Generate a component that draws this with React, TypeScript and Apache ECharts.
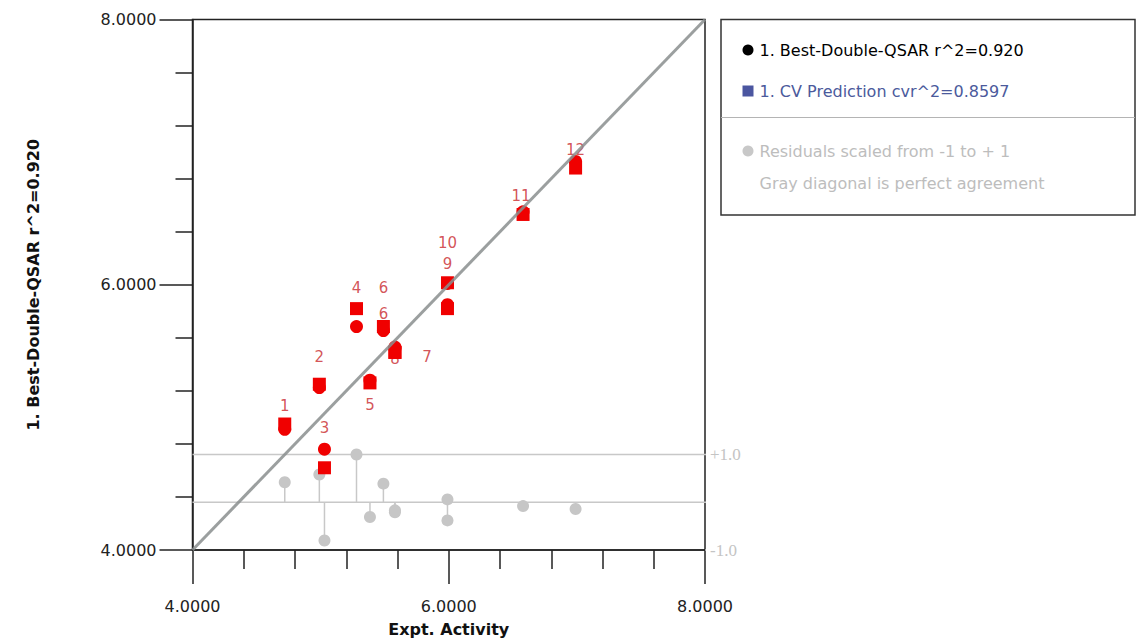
import React, { useEffect, useRef } from 'react';
import * as echarts from 'echarts';

// ---- data ----
const COMPOUNDS = ['1', '2', '3', '4', '5', '6', '7', '8', '9', '10', '11', '12'];
const EXPT = [4.72, 4.99, 5.03, 5.28, 5.385, 5.49, 5.58, 5.58, 5.99, 5.99, 6.58, 6.99];
const FITTED = [4.91, 5.225, 4.76, 5.685, 5.28, 5.655, 5.53, 5.52, 5.85, 6.01, 6.55, 6.93];
const CV_PRED = [4.95, 5.25, 4.62, 5.82, 5.26, 5.685, 5.49, 5.49, 5.82, 6.015, 6.53, 6.88];
const RESIDUAL_SCALED = [0.42, 0.58, -0.8, 1.0, -0.31, 0.39, -0.17, -0.21, -0.38, 0.06, -0.08, -0.14];
const CIRCLE_LABELLED = ['6'];

const RES_LEVELS = [1, 0, -1];
const RES_LEVEL_LABELS = ['+1.0', '', '-1.0'];

const AXIS_MIN = 4;
const AXIS_MAX = 8;
const AXIS_INTERVAL = 2;

const N_FIT = '1. Best-Double-QSAR r^2=0.920';
const N_CV = '1. CV Prediction cvr^2=0.8597';
const N_RES = 'Residuals scaled from -1 to + 1';
const N_DIAG = 'Gray diagonal is perfect agreement';
const X_TITLE = 'Expt. Activity';
const Y_TITLE = '1. Best-Double-QSAR r^2=0.920';

// ---- styling / layout config ----
const RES_ZERO = 4.36;
const RES_UNIT = 0.36;
const FONT = 'DejaVu Sans';
const RED = '#f00000';
const LABEL_COLOR = '#c8282c';
const LABEL_OFFSETS: Record<string, [number, number]> = {
  '1': [0, -18], '2': [0, -27], '3': [0, -40], '4': [0, -21], '5': [0, 22],
  '6': [0, -13], '7': [32, 5], '8': [0, 7], '9': [0, -45], '10': [0, -40],
  '11': [-2, -18], '12': [0, -18],
};
const CIRCLE_LABEL_OFFSETS: Record<string, [number, number]> = { '6': [0, -43] };

const resY = (r: number) => RES_ZERO + r * RES_UNIT;

function buildOption() {
  const axisCommon = {
    type: 'value',
    min: AXIS_MIN,
    max: AXIS_MAX,
    interval: AXIS_INTERVAL,
    splitLine: { show: false },
    axisLine: { show: true, lineStyle: { color: '#222', width: 1.5 } },
    minorTick: { show: true, splitNumber: 5, lineStyle: { color: '#222', width: 1.5 } },
    minorSplitLine: { show: false },
    axisLabel: {
      color: '#222', fontFamily: FONT, fontSize: 16,
      formatter: (v: number) => v.toFixed(4),
    },
    nameLocation: 'middle',
    nameTextStyle: { fontFamily: FONT, fontSize: 16, fontWeight: 'bold', color: '#111' },
  };

  const resLineSeries = RES_LEVELS.map((lvl, i) => ({
    type: 'line',
    data: lvl === -1 ? [[AXIS_MAX, resY(lvl)], [AXIS_MAX + 0.06, resY(lvl)]] : [[AXIS_MIN, resY(lvl)], [AXIS_MAX + 0.06, resY(lvl)]],
    symbol: 'none',
    clip: false,
    silent: true,
    z: 1,
    lineStyle: { color: '#c8c8c8', width: 1.5 },
    endLabel: {
      show: RES_LEVEL_LABELS[i] !== '',
      formatter: RES_LEVEL_LABELS[i],
      color: '#c4c4c4',
      fontFamily: 'Liberation Serif',
      fontSize: 17,
      distance: 4,
    },
  }));

  // label anchors: one per compound at its CV point, plus extra ones at fitted points
  const labelAnchors = [
    ...COMPOUNDS.map((c, i) => ({
      value: [EXPT[i], CV_PRED[i]],
      label: { formatter: c, offset: LABEL_OFFSETS[c] },
    })),
    ...COMPOUNDS.filter((c) => CIRCLE_LABELLED.includes(c)).map((c) => {
      const i = COMPOUNDS.indexOf(c);
      return {
        value: [EXPT[i], FITTED[i]],
        label: { formatter: c, offset: CIRCLE_LABEL_OFFSETS[c] },
      };
    }),
  ];

  return {
    animation: false,
    backgroundColor: '#fff',
    grid: {
      left: 192.5, top: 19.5, width: 512.5, height: 536.5,
      show: true, borderColor: '#222', borderWidth: 1.5,
    },
    xAxis: {
      ...axisCommon,
      name: X_TITLE,
      nameGap: 71,
      axisTick: { show: true, length: 34, lineStyle: { color: '#222', width: 1.5 } },
      minorTick: { ...axisCommon.minorTick, length: 19 },
      axisLabel: { ...axisCommon.axisLabel, margin: 48 },
    },
    yAxis: {
      ...axisCommon,
      name: Y_TITLE,
      nameGap: 151,
      axisTick: { show: true, length: 33, lineStyle: { color: '#222', width: 1.5 } },
      minorTick: { ...axisCommon.minorTick, length: 17 },
      axisLabel: { ...axisCommon.axisLabel, margin: 36 },
    },
    legend: [
      {
        orient: 'vertical', left: 737.5, top: 37, itemWidth: 11, itemHeight: 11, itemGap: 25,
        selectedMode: false,
        textStyle: { fontFamily: FONT, fontSize: 16, padding: [0, 0, 0, 1] },
        data: [
          { name: N_FIT, icon: 'circle', itemStyle: { color: '#000', opacity: 1 }, textStyle: { color: '#000' } },
          { name: N_CV, icon: 'rect', itemStyle: { color: '#4b56a0', opacity: 1 }, textStyle: { color: '#4b5a9c' } },
        ],
      },
      {
        orient: 'vertical', left: 737.5, top: 138, itemWidth: 11, itemHeight: 11, itemGap: 16,
        selectedMode: false,
        textStyle: { fontFamily: FONT, fontSize: 16, padding: [0, 0, 0, 1], color: '#bdbdbd' },
        data: [
          { name: N_RES, icon: 'circle', itemStyle: { color: '#c8c8c8', opacity: 1 } },
          { name: N_DIAG, icon: 'circle', itemStyle: { opacity: 0 } },
        ],
      },
    ],
    graphic: [
      {
        type: 'rect', silent: true,
        shape: { x: 721, y: 19.5, width: 414, height: 195.5 },
        style: { fill: 'none', stroke: '#333', lineWidth: 1.5 },
      },
      {
        type: 'line', silent: true,
        shape: { x1: 721, y1: 117.5, x2: 1135, y2: 117.5 },
        style: { stroke: '#b4b4b4', lineWidth: 1 },
      },
    ],
    series: [
      ...resLineSeries,
      {
        type: 'custom',
        silent: true,
        z: 1,
        data: EXPT.map((x, i) => [x, RESIDUAL_SCALED[i]]),
        renderItem: (_params: any, api: any) => {
          const x = api.value(0);
          const r = api.value(1);
          const p0 = api.coord([x, RES_ZERO]);
          const p1 = api.coord([x, resY(r)]);
          return {
            type: 'line',
            shape: { x1: p0[0], y1: p0[1], x2: p1[0], y2: p1[1] },
            style: { stroke: '#c8c8c8', lineWidth: 1.5 },
          };
        },
      },
      {
        name: N_RES,
        type: 'scatter',
        z: 2,
        symbol: 'circle',
        symbolSize: 12,
        itemStyle: { color: '#c6c6c6', opacity: 1 },
        data: EXPT.map((x, i) => [x, resY(RESIDUAL_SCALED[i])]),
      },
      {
        type: 'scatter',
        z: 1,
        silent: true,
        symbolSize: 1,
        itemStyle: { color: 'rgba(0,0,0,0)' },
        label: {
          show: true, position: 'inside', color: LABEL_COLOR, fontFamily: FONT, fontSize: 15,
        },
        data: labelAnchors,
      },
      {
        name: N_CV,
        type: 'scatter',
        z: 2,
        symbol: 'rect',
        symbolSize: 13,
        itemStyle: { color: RED, opacity: 1 },
        data: EXPT.map((x, i) => [x, CV_PRED[i]]),
      },
      {
        name: N_FIT,
        type: 'scatter',
        z: 3,
        symbol: 'circle',
        symbolSize: 13,
        itemStyle: { color: RED, opacity: 1 },
        data: EXPT.map((x, i) => [x, FITTED[i]]),
      },
      {
        name: N_DIAG,
        type: 'line',
        z: 5,
        silent: true,
        symbol: 'none',
        lineStyle: { color: '#8a8e8e', width: 3, opacity: 0.85 },
        data: [[AXIS_MIN, AXIS_MIN], [AXIS_MAX, AXIS_MAX]],
      },
    ],
  };
}

export default function App() {
  const ref = useRef<HTMLDivElement>(null);
  useEffect(() => {
    if (!ref.current) return;
    const chart = echarts.init(ref.current, null, { renderer: 'svg' });
    chart.setOption(buildOption() as any);
    return () => chart.dispose();
  }, []);
  return (
    <div
      ref={ref}
      style={{ position: 'fixed', left: 0, top: 0, width: 1137, height: 642, background: '#fff' }}
    />
  );
}
